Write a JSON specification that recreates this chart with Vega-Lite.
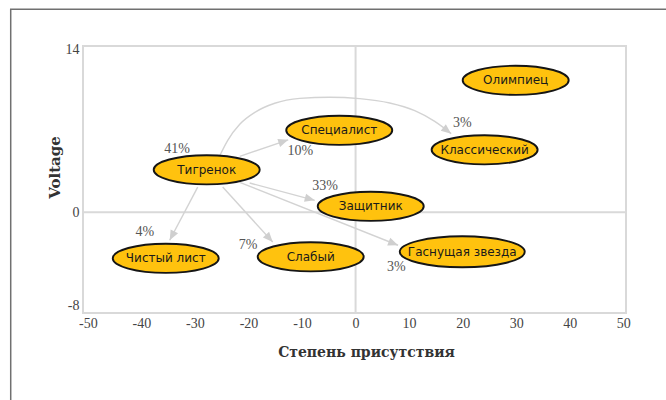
{
  "$schema": "https://vega.github.io/schema/vega-lite/v6.json",
  "width": 543,
  "height": 267,
  "autosize": "none",
  "padding": {"left": 83, "top": 46, "right": 40, "bottom": 87},
  "background": "white",
  "config": {"view": {"stroke": "#d9d9d9", "strokeWidth": 2}},
  "datasets": {
    "nodes": [
      {"name": "Тигренок", "x": -27.8, "y": 3.64, "pct": "41%", "lx": -33.34, "ly": 5.46},
      {"name": "Специалист", "x": -3.05, "y": 7.04, "pct": "10%", "lx": -10.3, "ly": 5.23},
      {"name": "Олимпиец", "x": 29.9, "y": 11.33, "pct": null, "lx": null, "ly": null},
      {"name": "Классический", "x": 24.1, "y": 5.36, "pct": "3%", "lx": 19.95, "ly": 7.66},
      {"name": "Защитник", "x": 2.83, "y": 0.51, "pct": "33%", "lx": -5.7, "ly": 2.23},
      {"name": "Чистый лист", "x": -35.45, "y": -3.96, "pct": "4%", "lx": -39.37, "ly": -1.7},
      {"name": "Слабый", "x": -8.38, "y": -3.83, "pct": "7%", "lx": -20.08, "ly": -2.84},
      {"name": "Гаснущая звезда", "x": 19.92, "y": -3.4, "pct": "3%", "lx": 7.63, "ly": -4.71}
    ],
    "edges": [
      {"to": "Специалист", "x": -21.63, "y": 4.8, "x2": -12.58, "y2": 6.22, "curved": false},
      {"to": "Защитник", "x": -19.77, "y": 2.51, "x2": -7.63, "y2": 1.02, "curved": false},
      {"to": "Гаснущая звезда", "x": -21.63, "y": 2.57, "x2": 7.93, "y2": -2.84, "curved": false},
      {"to": "Слабый", "x": -24.81, "y": 2.16, "x2": -15.47, "y2": -2.56, "curved": false},
      {"to": "Чистый лист", "x": -29.48, "y": 2.16, "x2": -34.71, "y2": -2.41, "curved": false},
      {"to": "Классический", "x": 15.72, "y": 7.51, "x2": 17.86, "y2": 6.75, "curved": true}
    ],
    "arc": [
      {"i": 1, "x": -25.37, "y": 4.85},
      {"i": 2, "x": -23.87, "y": 6.18},
      {"i": 3, "x": -21.63, "y": 7.55},
      {"i": 4, "x": -18.65, "y": 8.62},
      {"i": 5, "x": -15.1, "y": 9.36},
      {"i": 6, "x": -10.43, "y": 9.78},
      {"i": 7, "x": -4.83, "y": 9.88},
      {"i": 8, "x": 0.77, "y": 9.76},
      {"i": 9, "x": 6.38, "y": 9.38},
      {"i": 10, "x": 11.05, "y": 8.72},
      {"i": 11, "x": 14.78, "y": 7.8},
      {"i": 12, "x": 17.86, "y": 6.75}
    ]
  },
  "layer": [
    {
      "data": {"values": [{}]},
      "mark": {"type": "rect", "fillOpacity": 0, "stroke": "#707070", "strokeWidth": 1.5},
      "encoding": {
        "x": {
          "datum": -64.4, "type": "quantitative",
          "scale": {"domain": [-50.9, 50.5], "nice": false, "zero": false},
          "axis": {
            "values": [-50, -40, -30, -20, -10, 0, 10, 20, 30, 40, 50],
            "grid": false, "ticks": false, "domain": false,
            "labelFont": "Liberation Serif", "labelFontSize": 14, "labelColor": "#444",
            "labelPadding": 3, "labelFlush": false,
            "labelExpr": "replace(datum.label, '\u2212', '-')",
            "title": "Степень присутствия",
            "titleFont": "DejaVu Serif", "titleFontSize": 14, "titleFontWeight": "bold", "titleColor": "#333",
            "titleX": 283, "titleY": 43, "titleBaseline": "alphabetic", "titleAlign": "center"
          }
        },
        "x2": {"datum": 100},
        "y": {
          "datum": 17.43, "type": "quantitative",
          "scale": {"domain": [-8.66, 14.28], "nice": false, "zero": false},
          "axis": {
            "values": [14, 0, -8],
            "grid": false, "ticks": false, "domain": false,
            "labelFont": "Liberation Serif", "labelFontSize": 14, "labelColor": "#444",
            "labelPadding": 4,
            "labelExpr": "replace(datum.label, '\u2212', '-')",
            "title": "Voltage",
            "titleFont": "DejaVu Serif", "titleFontSize": 15, "titleFontWeight": "bold", "titleColor": "#333",
            "titleX": -24, "titleY": 121, "titleAngle": 270, "titleBaseline": "alphabetic", "titleAlign": "center"
          }
        },
        "y2": {"datum": -30}
      }
    },
    {
      "data": {"values": [{}]},
      "mark": {"type": "rule", "stroke": "#d9d9d9", "strokeWidth": 2},
      "encoding": {
        "x": {"datum": 0, "type": "quantitative"}
      }
    },
    {
      "data": {"values": [{}]},
      "mark": {"type": "rule", "stroke": "#d9d9d9", "strokeWidth": 2},
      "encoding": {
        "y": {"datum": 0, "type": "quantitative"}
      }
    },
    {
      "data": {"name": "edges"},
      "transform": [{"filter": "!datum.curved"}],
      "mark": {"type": "rule", "stroke": "#d3d3d3", "strokeWidth": 1.4},
      "encoding": {
        "x": {"field": "x", "type": "quantitative"},
        "y": {"field": "y", "type": "quantitative"},
        "x2": {"field": "x2"},
        "y2": {"field": "y2"}
      }
    },
    {
      "data": {"name": "arc"},
      "mark": {"type": "line", "stroke": "#d3d3d3", "strokeWidth": 1.4, "interpolate": "monotone"},
      "encoding": {
        "x": {"field": "x", "type": "quantitative"},
        "y": {"field": "y", "type": "quantitative"},
        "order": {"field": "i"}
      }
    },
    {
      "data": {"name": "edges"},
      "transform": [{"calculate": "atan2((datum.x2 - datum.x) * 5.355, (datum.y2 - datum.y) * 11.64) * 180 / PI", "as": "ang"}],
      "mark": {"type": "point", "shape": "M0,0L0.42,1L-0.42,1Z", "size": 400, "filled": true, "fill": "#cfcfcf", "opacity": 1, "strokeWidth": 0},
      "encoding": {
        "x": {"field": "x2", "type": "quantitative"},
        "y": {"field": "y2", "type": "quantitative"},
        "angle": {"field": "ang", "type": "quantitative", "scale": null}
      }
    },
    {
      "data": {"name": "nodes"},
      "mark": {"type": "point", "filled": true, "fill": "#FFC20E", "stroke": "#151515", "strokeWidth": 1.9, "opacity": 1},
      "encoding": {
        "x": {"field": "x", "type": "quantitative"},
        "y": {"field": "y", "type": "quantitative"},
        "shape": {
          "condition": {"test": "datum.name === 'Гаснущая звезда'", "value": "M-1,0A1,0.248,0,1,1,1,0A1,0.248,0,1,1,-1,0Z"},
          "value": "M-1,0A1,0.275,0,1,1,1,0A1,0.275,0,1,1,-1,0Z"
        },
        "size": {
          "condition": {"test": "datum.name === 'Гаснущая звезда'", "value": 15625},
          "value": 11236
        }
      }
    },
    {
      "data": {"name": "nodes"},
      "mark": {"type": "text", "font": "DejaVu Sans", "fontSize": 12, "fill": "#1a1a1a", "baseline": "middle", "align": "center"},
      "encoding": {
        "x": {"field": "x", "type": "quantitative"},
        "y": {"field": "y", "type": "quantitative"},
        "text": {"field": "name"}
      }
    },
    {
      "data": {"name": "nodes"},
      "transform": [{"filter": "datum.pct != null"}],
      "mark": {"type": "text", "font": "Liberation Serif", "fontSize": 14, "fill": "#555555", "baseline": "middle", "align": "center"},
      "encoding": {
        "x": {"field": "lx", "type": "quantitative"},
        "y": {"field": "ly", "type": "quantitative"},
        "text": {"field": "pct"}
      }
    }
  ]
}
